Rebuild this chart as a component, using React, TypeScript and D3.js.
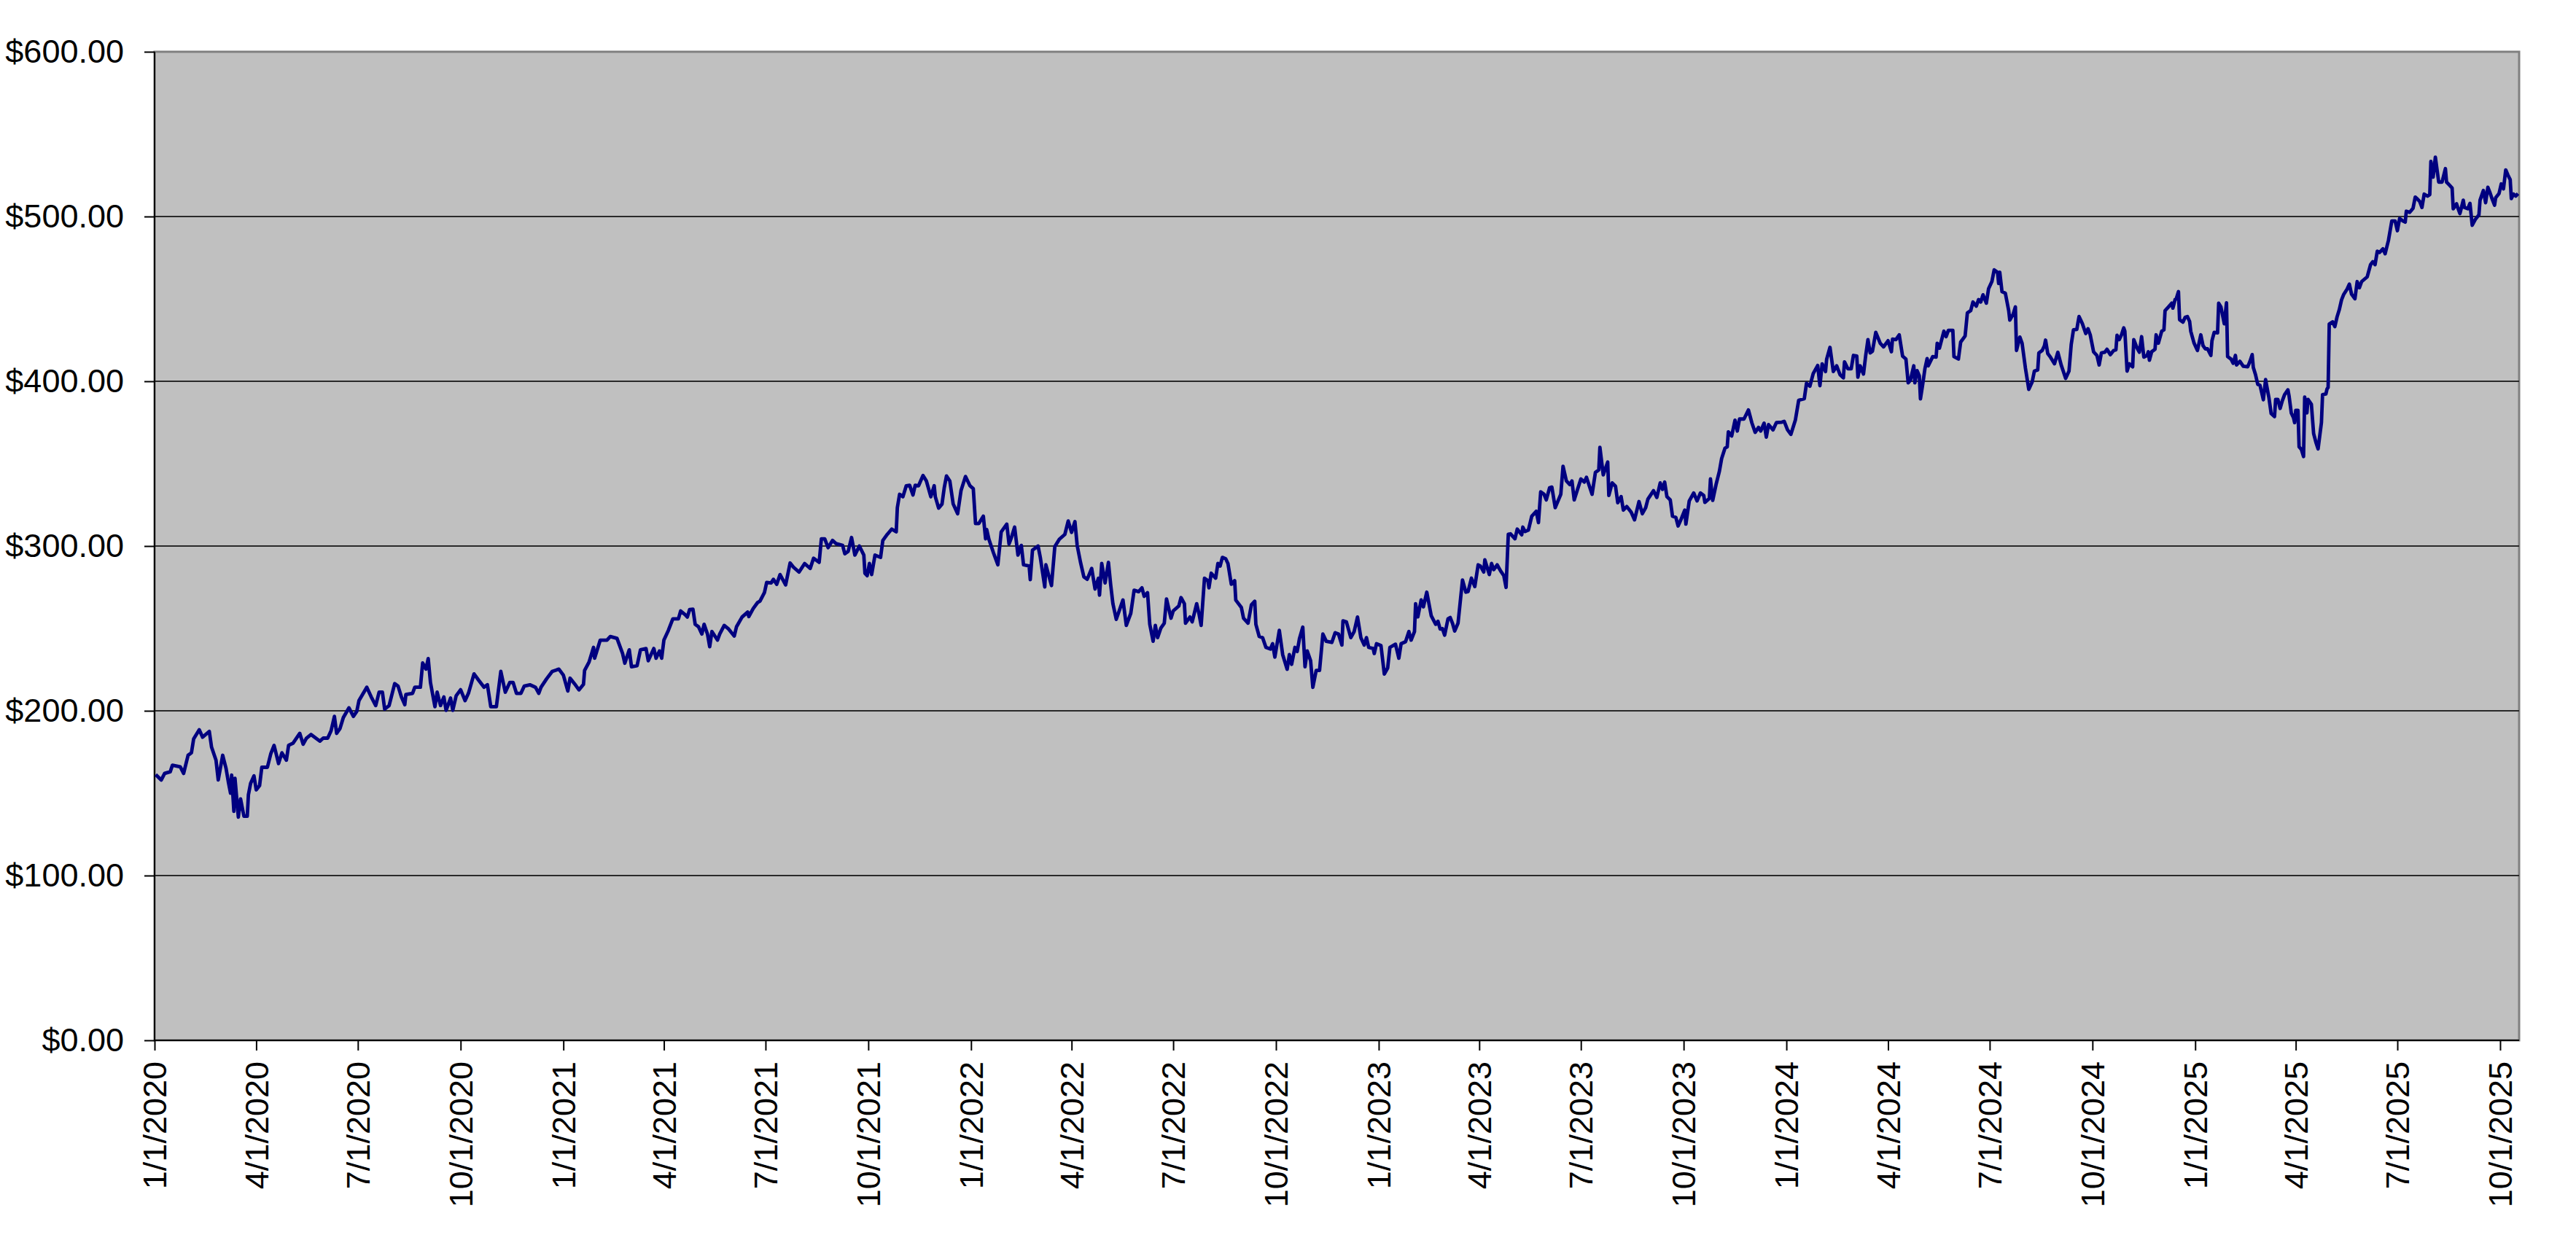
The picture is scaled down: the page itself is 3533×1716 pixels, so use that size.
import React, { useEffect, useRef } from 'react';
import * as d3 from 'd3';

// x axis runs from 1/1/2020 to mid Oct 2025
const startDate = new Date(2020, 0, 1);
const endDate = new Date(2025, 9, 18);

// days after 1/1/2020 for each plotted close
const dayOffsets = [
  1, 6, 9, 14, 16, 23, 26, 30, 33, 35, 40, 43, 49, 51, 55, 57, 61, 64, 66, 68, 69, 71, 72, 75, 77, 80, 83, 84, 86, 89,
  91, 94, 96, 101, 104, 107, 111, 114, 118, 120, 124, 130, 133, 136, 140, 148, 151, 155, 158, 161, 163, 166, 169, 174,
  178, 181, 183, 190, 194, 198, 201, 204, 206, 210, 215, 218, 221, 224, 225, 231, 233, 238, 240, 243, 245, 247, 251,
  253, 256, 259, 261, 265, 267, 270, 274, 278, 281, 286, 290, 295, 298, 301, 306, 310, 314, 318, 321, 324, 328, 331,
  336, 341, 344, 346, 351, 356, 362, 366,
  370, 372, 376, 380, 384, 385, 389, 393, 394, 399, 405, 408, 414, 419, 421, 425, 427, 432, 435, 440, 442, 447, 449,
  452, 454, 456, 460, 464, 469, 471, 475, 477, 479, 482, 484, 487, 490, 492, 495, 497, 499, 504, 506, 510, 514, 519,
  521, 526, 531, 532, 536, 540, 542, 546, 548, 552, 554, 557, 560, 565, 569, 572, 577, 582, 587, 590, 595, 597, 600,
  603, 607, 610, 616, 618, 621, 624, 627, 631, 635, 636, 638, 640, 642, 645, 650, 652, 656, 660, 664, 665, 667, 670,
  673, 676, 679, 681, 684, 688, 691, 695, 698, 699, 702, 705, 707, 709, 712, 715, 719, 722, 726, 730, 733, 735, 738,
  742, 744, 745, 747,
  751, 755, 758, 763, 765, 767, 770, 773, 776, 778, 783, 784, 786, 791, 793, 797, 798, 803, 806, 810, 815, 818, 821,
  824, 826, 829, 832, 835, 839, 842, 845, 846, 848, 851, 854, 856, 858, 861, 864, 867, 870, 874, 877, 881, 884, 886,
  889, 891, 894, 896, 898, 901, 904, 906, 910, 912, 917, 919, 922, 923, 927, 929, 933, 935, 937, 940, 943, 944, 946,
  950, 952, 954, 956, 959, 961, 964, 967, 968, 973, 975, 979, 982, 985, 986, 989, 992, 995, 999, 1001, 1003, 1007,
  1010, 1014, 1016, 1018, 1021, 1023, 1025, 1028, 1030, 1032, 1035, 1037, 1040, 1043, 1046, 1049, 1054, 1057, 1060,
  1063, 1064, 1067, 1071, 1074, 1077, 1080, 1083, 1085, 1087, 1091, 1092, 1094, 1098, 1101, 1104, 1106, 1111, 1114,
  1116, 1120, 1123, 1125,
  1128, 1129, 1131, 1134, 1136, 1139, 1143, 1147, 1149, 1151, 1153, 1155, 1158, 1160, 1162, 1164, 1167, 1171, 1174,
  1176, 1179, 1182, 1185, 1187, 1190, 1191, 1195, 1197, 1199, 1202, 1205, 1208, 1210, 1212, 1214, 1218, 1220, 1224,
  1225, 1227, 1230, 1233, 1237, 1239, 1241, 1244, 1246, 1249, 1251, 1254, 1259, 1261, 1264, 1267, 1269, 1271, 1274,
  1277, 1280, 1282, 1287, 1290, 1293, 1294, 1297, 1301, 1302, 1305, 1308, 1310, 1313, 1315, 1318, 1322, 1325, 1329,
  1332, 1335, 1337, 1342, 1345, 1348, 1350, 1352, 1354, 1357, 1359, 1362, 1364, 1367, 1370, 1371, 1374, 1378, 1381,
  1384, 1387, 1388, 1392, 1393, 1395, 1398, 1401, 1403, 1406, 1408, 1409, 1412, 1415, 1417, 1419, 1423, 1427, 1430,
  1433, 1436, 1438, 1441, 1443, 1445, 1449, 1452, 1457, 1459, 1462, 1465, 1469, 1472, 1477, 1479, 1482, 1485, 1489,
  1491, 1493, 1496, 1497, 1500, 1503,
  1506, 1509, 1512, 1513, 1516, 1519, 1521, 1524, 1525, 1527, 1530, 1532, 1534, 1536, 1538, 1541, 1545, 1548, 1552,
  1555, 1556, 1559, 1562, 1565, 1568, 1570, 1572, 1575, 1576, 1578, 1580, 1581, 1583, 1585, 1587, 1588, 1592, 1595,
  1596, 1598, 1602, 1604, 1606, 1610, 1611, 1615, 1617, 1621, 1623, 1626, 1628, 1631, 1633, 1635, 1637, 1640, 1642,
  1645, 1647, 1650, 1651, 1652, 1654, 1657, 1660, 1661, 1664, 1666, 1667, 1670, 1672, 1675, 1678, 1681, 1683, 1686,
  1687, 1690, 1692, 1693, 1695, 1697, 1701, 1704, 1707, 1711, 1714, 1716, 1718, 1721, 1722, 1723, 1726, 1729, 1731,
  1733, 1736, 1739, 1741, 1743, 1746, 1748, 1751, 1754, 1756, 1757, 1759, 1761, 1763, 1764, 1766, 1768, 1771, 1772,
  1775, 1777, 1779, 1781, 1784, 1785, 1786, 1788, 1791, 1792, 1794, 1797, 1799, 1800, 1803, 1806, 1807, 1809, 1810,
  1812, 1813, 1816, 1818, 1820, 1822, 1823, 1826, 1829, 1832, 1834, 1836, 1838, 1841, 1842, 1844, 1847, 1848, 1850,
  1853, 1855, 1856, 1859, 1861, 1863, 1864, 1867, 1870, 1874, 1876, 1878, 1879, 1881, 1883, 1885, 1888, 1890, 1893,
  1895,
  1898, 1899, 1901, 1903, 1905, 1907, 1910, 1911, 1913, 1915, 1916, 1917, 1919, 1920, 1922, 1924, 1925, 1927, 1928,
  1931, 1933, 1935, 1937, 1940, 1941, 1944, 1945, 1946, 1947, 1950, 1952, 1954, 1956, 1958, 1960, 1963, 1965, 1967,
  1970, 1972, 1974, 1976, 1981, 1984, 1986, 1988, 1990, 1992, 1995, 1997, 2000, 2003, 2006, 2008, 2010, 2013, 2015,
  2016, 2019, 2022, 2024, 2026, 2028, 2030, 2032, 2035, 2037, 2038, 2040, 2042, 2045, 2048, 2051, 2052, 2054, 2057,
  2058, 2061, 2062, 2064, 2067, 2068, 2071, 2073, 2075, 2078, 2081, 2082, 2085, 2087, 2089, 2091, 2093, 2095, 2096,
  2099, 2101, 2103, 2105, 2107, 2109, 2110, 2112, 2114, 2116,
];

// closing price on each of those days
const closePrices = [
  161.3, 158, 162, 163, 167, 166, 162, 173, 174.5, 183, 188.5, 184, 187.5, 178, 170, 158, 173, 165, 157, 150, 161, 139,
  159, 135.5, 146.5, 136, 136, 149, 156, 160.5, 152, 154.6, 165.7, 165.7, 173.8, 179, 168, 174.5, 170, 179, 180.4,
  186.3, 179.7, 183.4, 185.6, 181.6, 183.4, 183.4, 187.8, 196.6, 186.3, 189.2, 195.9, 201.8, 196.6, 199.6, 206.2,
  214.3, 208.4, 203.2, 211.3, 211.3, 201, 203.2, 216.5, 215, 208.4, 203.7, 209.9, 210.6, 214.3, 214.3, 229, 225.3,
  231.7, 217.2, 202.5, 211.3, 203.2, 208.4, 200.3, 207.7, 200.3, 209.1, 212.8, 206.2, 210.6, 222.4, 218.7, 214.3,
  215.8, 202.5, 202.5, 223.9, 211.3, 217.2, 217.2, 210.6, 210.6, 215, 215.8, 214.3, 210.6, 214.3, 219.4, 223.9, 225.3,
  221.6,
  212, 219.8, 216.4, 212.7, 216, 224.5, 229.6, 238.5, 231.9, 242.9, 242.9, 245.1, 244, 234.8, 228.9, 237, 226.7, 227.4,
  237, 237.8, 230.4, 237.8, 231.9, 236.3, 231.9, 242.9, 248.8, 255.8, 255.8, 260.6, 258.4, 256.9, 261.4, 261.7, 252.5,
  251, 246.6, 252.5, 246.6, 238.9, 248.1, 242.9, 246.6, 251.8, 249.6, 245.4, 251, 256.9, 259.9, 257.2, 262.1, 265.8,
  266.5, 271.7, 277.9, 277.6, 279.8, 276.8, 282.7, 276.4, 289.7, 287.2, 284.2, 289.4, 286.4, 292.6, 290.1, 304.4,
  304.4, 299, 303.4, 301.5, 300.4, 295.3, 296.8, 305.2, 294.5, 300, 294.5, 283.5, 282, 289.4, 282.7, 294.5, 293.1,
  303.4, 307.1, 310.3, 308.6, 323.3, 331.4, 329.9, 336.6, 336.9, 331, 336.9, 336.6, 342.8, 339.5, 329.9, 336.6, 329.9,
  323, 325.5, 335.4, 342.5, 339.5, 325.5, 319.6, 333.6, 342.2, 336.6, 334.8, 313.7, 313.7, 318.1, 304.4, 310, 304.1,
  296, 288.6, 308.6, 313.3, 301.2, 304.9, 311.5, 294.5, 300.4, 288.6, 287.9, 279.6, 297.5, 300, 293.1, 275.2, 288.6,
  276, 299.7, 304.1, 307.1, 315.2, 308.3, 314.8, 300.4, 290.1, 281.3, 279.8, 286.4, 273.9, 280.4, 270.2, 289.4, 277.6,
  290.1, 276.5, 265, 255.5, 261.4, 267.3, 251.8, 259.1, 273.2, 272.3, 274.6, 269.5, 271.7, 252.5, 242.2, 251.8, 244.4,
  250.3, 253.2, 267.9, 256.2, 260.6, 263.6, 268.7, 265, 253.2, 256.9, 254, 265, 259.1, 251.8, 280.5, 279, 274.6, 283.5,
  280.5, 289.4, 287.9, 293.1, 292.3, 289.4, 276.8, 279, 267.2, 262.7, 256.1, 253.2, 264.3, 266.5, 252.5, 245.1, 244.4,
  238.5, 237.5, 240.7, 232.6, 248.8, 234.1, 225.2, 234.1, 228.2, 238.5, 236, 243.7, 250.8, 226.7, 236.3, 230.4, 214.2,
  224.5, 224.5, 246.6, 242.2, 241.5, 247.4, 246.6, 239.9, 254.6, 254, 244.4, 248.1, 256.9, 244.4, 239.9, 244.4, 238.5,
  237.8, 234.8, 240.7, 239.6, 222.3, 226, 238.5, 240.4, 231.9, 240.7, 241.9, 248.1, 242.9,
  248.1, 265, 257, 267.3, 263.1, 272, 257.7, 252.5, 254.3, 249.6, 249.9, 245.9, 255.8, 256.6, 253.2, 248.4, 253.2,
  279.4, 272, 272.4, 280.5, 275.4, 288.6, 287.9, 284.2, 291.6, 282.7, 289.4, 285.7, 288.6, 285, 282, 274.9, 307.1,
  307.4, 304.4, 310.3, 306.8, 311.5, 308.8, 309.7, 318.1, 321.1, 314.2, 332.9, 331.4, 328, 335.4, 335.8, 323.3, 331.4,
  348.4, 339.5, 337.3, 339.5, 328, 334.4, 340.7, 338.8, 341.7, 331.4, 344.7, 346.2, 359.9, 343.2, 351, 330.7, 338.3,
  336.3, 326.3, 330, 321.8, 324, 320.6, 315.9, 327, 319.6, 323.3, 328.5, 333.6, 329.5, 338.3, 334.4, 338.8, 330, 328,
  318.1, 317.4, 312.2, 316.7, 321.8, 313.3, 327.4, 332.2, 327.4, 332.2, 330.7, 326.5, 328.9, 340.7, 327.7, 337.3,
  345.4, 353.1, 359.4, 360.2, 369.3, 366.8, 376.4, 369.8, 377.1, 377.1, 382.6, 374.9, 369, 372, 369.8, 374.6, 366.1,
  373.7, 370.5, 374.9, 375.2, 375.7, 370.5, 367.8, 376.4, 388.5, 389.4, 398.8, 397, 404.7, 409.6, 397.3, 410.6, 405.9,
  413.3, 420.6, 405.9,
  409.4, 404, 402.1, 411.8, 407.6, 407.6, 415.7, 415.3, 402.5, 409.4, 404.4, 415.7, 425.3, 417.2, 418.2, 429.7, 423.1,
  420.9, 424.6, 417.9, 425.6, 425.3, 428.2, 415.3, 413.5, 399.1, 400.6, 409.4, 399.1, 406.5, 403.2, 389.3, 398.1,
  407.6, 413.8, 409.4, 415, 414.7, 423.1, 420.1, 430.4, 427.1, 430.9, 430.9, 415, 413.5, 423.8, 427.5, 441.5, 442.9,
  448.1, 445.6, 449.6, 448.1, 452.5, 447.4, 456.2, 460.6, 467.6, 466.2, 459.4, 466.2, 454.4, 453.5, 442.9, 437.1,
  440.7, 445.1, 418.7, 426.8, 423.1, 407.9, 395.1, 399.6, 406.2, 406.9, 417.2, 418.7, 421.6, 425, 416.8, 415, 410.6,
  417.6, 409.9, 401.8, 406.2, 422.4, 431.2, 431.5, 435.6, 439.3, 434.9, 429, 431.9, 428.2, 417.9, 415.7, 409.9, 417.2,
  417.6, 419.4, 416.2, 418.7, 419.1, 427.9, 425.3, 428.2, 432.4, 430.4, 406.2, 410.6, 408.8, 425.3, 420.1, 417.6,
  427.1, 414.7, 415.7, 417.9, 412.8, 417.9, 419.4, 428.2, 423.1, 430.4, 431.2, 442.9, 445.1, 447.4, 444.4, 449.6, 450,
  454.4, 437.4, 435.9, 438.8, 439.3, 436.3, 430.4, 423.1, 418.7, 428.2, 421.6, 419.7, 419.7, 415.7, 424.6, 429.7,
  429.4, 447.4, 445.1, 434.9, 447.6, 415, 413.5, 410.9, 415.7, 409.9, 412.1, 409.1, 408.8, 412.1, 416.2, 408.4, 404,
  398.1, 397.6, 388.8, 401, 390, 380.4,
  378.6, 389, 389, 383.5, 388.2, 391.9, 394.8, 391.2, 380.8, 377.9, 374.9, 382.3, 382.3, 360.2, 358.7, 354.3, 390.4,
  380.8, 389, 386, 368.3, 363.1, 359, 374.9, 391.9, 392.3, 395.3, 396.3, 434.7, 436.1, 433.2, 439.1, 443.5, 449.4,
  452.8, 456, 459, 452.8, 450.1, 460.5, 456.8, 460.5, 463.4, 470.8, 472.6, 470.8, 478.9, 478.2, 480.4, 477.4, 485.5,
  497.3, 497.3, 491.4, 498.8, 497.3, 496.6, 503.2, 502.5, 505, 511.8, 510.6, 509.1, 505.5, 513.6, 512.4, 513.3, 533.5,
  523.9, 536, 520.9, 520.9, 529.1, 520.9, 519.5, 517.3, 504.7, 507.7, 505.5, 501.8, 509.9, 505.5, 504.7, 508, 494.7,
  498.5, 501, 509.9, 515.8, 508.4, 517.7, 514.3, 510.3, 506.9, 511.4, 513.9, 519.8, 516.8, 528.3, 525.1, 522.4, 510.9,
  513.6, 512.4, 513.9,
];

const yTickValues = [0, 100, 200, 300, 400, 500, 600];
// quarterly date ticks, 1/1/2020 .. 10/1/2025
const xTickDates = d3.timeMonth.every(3)!.range(startDate, new Date(2025, 9, 2));

const FONT = '"Liberation Sans", Arial, sans-serif';

const App: React.FC = () => {
  const svgRef = useRef<SVGSVGElement>(null);

  useEffect(() => {
    if (!svgRef.current) return;

    const svg = d3.select(svgRef.current);
    svg.selectAll('*').remove();

    const width = 3533;
    const height = 1716;
    const margin = { top: 71, right: 78, bottom: 289, left: 212 };
    const plotBottom = height - margin.bottom;
    const plotRight = width - margin.right;

    const x = d3.scaleTime().domain([startDate, endDate]).range([margin.left, plotRight]);
    const y = d3.scaleLinear().domain([0, 600]).range([plotBottom, margin.top]);

    const points = dayOffsets.map((d, i) => ({
      date: d3.timeDay.offset(startDate, d),
      value: closePrices[i],
    }));

    // plot area
    svg.append('rect')
      .attr('x', margin.left)
      .attr('y', margin.top)
      .attr('width', plotRight - margin.left)
      .attr('height', plotBottom - margin.top)
      .attr('fill', '#C0C0C0')
      .attr('stroke', '#808080')
      .attr('stroke-width', 3);

    // gridlines
    svg.append('g')
      .selectAll('line')
      .data(yTickValues.filter(v => v > 0 && v < 600))
      .enter().append('line')
      .attr('x1', margin.left)
      .attr('x2', plotRight)
      .attr('y1', d => y(d))
      .attr('y2', d => y(d))
      .attr('stroke', '#2a2a2a')
      .attr('stroke-width', 1.8);

    // Y axis
    const yAxis = svg.append('g')
      .attr('transform', `translate(${margin.left},0)`)
      .call(d3.axisLeft(y)
        .tickValues(yTickValues)
        .tickSize(14)
        .tickPadding(28)
        .tickFormat(d => d3.format('$,.2f')(d as number)));
    yAxis.select('.domain').remove();
    yAxis.selectAll('line').attr('stroke', '#000').attr('stroke-width', 2);
    yAxis.selectAll('text')
      .attr('fill', '#000')
      .style('font-family', FONT)
      .style('font-size', '45px');

    // X axis
    const xAxis = svg.append('g')
      .attr('transform', `translate(0,${plotBottom})`)
      .call(d3.axisBottom(x)
        .tickValues(xTickDates)
        .tickSize(14)
        .tickFormat(d => d3.timeFormat('%-m/%-d/%Y')(d as Date)));
    xAxis.select('.domain').remove();
    xAxis.selectAll('line').attr('stroke', '#000').attr('stroke-width', 2);
    xAxis.selectAll('text')
      .attr('fill', '#000')
      .attr('transform', 'rotate(-90)')
      .attr('x', -29)
      .attr('y', 0)
      .attr('dy', '0.35em')
      .style('text-anchor', 'end')
      .style('font-family', FONT)
      .style('font-size', '45px');

    // axis lines
    svg.append('line')
      .attr('x1', margin.left).attr('x2', margin.left)
      .attr('y1', margin.top).attr('y2', plotBottom)
      .attr('stroke', '#000').attr('stroke-width', 2);
    svg.append('line')
      .attr('x1', margin.left).attr('x2', plotRight)
      .attr('y1', plotBottom).attr('y2', plotBottom)
      .attr('stroke', '#000').attr('stroke-width', 2);

    // price line
    const line = d3.line<{ date: Date; value: number }>()
      .x(d => x(d.date))
      .y(d => y(d.value));

    svg.append('path')
      .datum(points)
      .attr('fill', 'none')
      .attr('stroke', '#000080')
      .attr('stroke-width', 4.8)
      .attr('stroke-linejoin', 'round')
      .attr('d', line);
  }, []);

  return (
    <svg
      ref={svgRef}
      width={3533}
      height={1716}
      style={{ position: 'absolute', left: 0, top: 0, display: 'block', background: '#fff' }}
    />
  );
};

export default App;
